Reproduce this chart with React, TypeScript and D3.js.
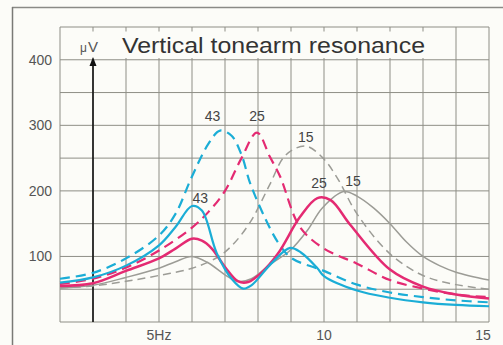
import React from "react";
import * as d3 from "d3";

// [frequency Hz, µV]
const cyanDashed: [number, number][] = [
  [2, 66], [3, 75], [4, 97], [5, 132], [5.5, 165], [6, 222], [6.5, 272], [6.85, 292],
  [7.2, 284], [7.5, 255], [7.76, 212], [8.2, 160], [8.6, 122], [9, 98], [10, 78],
  [11, 57], [12, 45], [13, 38], [14, 33], [15, 30],
];
const cyanSolid: [number, number][] = [
  [2, 60], [3, 68], [4, 86], [5, 117], [5.5, 145], [6, 177], [6.3, 170], [6.75, 105],
  [7.2, 66], [7.55, 51], [7.8, 56], [8.4, 89], [8.97, 113], [9.3, 106], [9.8, 82],
  [10, 70], [11, 48], [12, 37], [13, 30], [14, 26], [15, 24],
];
const magentaDashed: [number, number][] = [
  [2, 58], [3, 66], [4, 83], [5, 109], [6, 144], [6.5, 168], [7, 200], [7.5, 250],
  [7.97, 289], [8.36, 252], [8.67, 222], [9.27, 145], [10, 112], [11, 89], [12, 64],
  [13, 51], [14, 42], [15, 38],
];
const magentaSolid: [number, number][] = [
  [2, 55], [3, 59], [4, 78], [5, 97], [5.5, 112], [6, 127], [6.3, 124], [6.6, 112],
  [7, 84], [7.4, 62], [7.7, 61], [8.1, 75], [8.6, 104], [9.27, 160], [9.8, 189],
  [10.2, 186], [10.8, 148], [12, 80], [13, 54], [14, 42], [15, 36],
];
const grayDashed: [number, number][] = [
  [2, 52], [3, 55], [4, 62], [5, 71], [6, 82], [6.75, 98], [7.2, 116], [7.76, 152],
  [8.36, 210], [8.76, 250], [9.1, 264], [9.48, 268], [9.97, 250], [10.4, 220], [11, 165],
  [12, 104], [13, 71], [14, 57], [15, 50],
];
const graySolid: [number, number][] = [
  [2, 52], [3, 56], [4, 68], [5, 82], [5.5, 92], [6, 100], [6.5, 90], [7, 72],
  [7.4, 62], [7.8, 66], [8.4, 89], [8.97, 109], [9.5, 140], [9.95, 174], [10.6, 199],
  [11, 192], [11.5, 174], [12, 150], [12.5, 122], [13, 100], [13.5, 86], [14, 76], [15, 64],
];

const yTicks = [100, 200, 300, 400];
const xTickLabels: [number, string][] = [[5, "5Hz"], [10, "10"], [15, "15"]];
const title = "Vertical tonearm resonance";
const unitMu = "\u03bc";
const unitV = "V";

const curveLabels: { text: string; f: number; v: number }[] = [
  { text: "43", f: 6.62, v: 307 },
  { text: "25", f: 7.97, v: 307 },
  { text: "15", f: 9.45, v: 275 },
  { text: "43", f: 6.25, v: 181 },
  { text: "25", f: 9.85, v: 205 },
  { text: "15", f: 10.88, v: 208 },
];

const CYAN = "#1badd6";
const MAGENTA = "#e42a72";
const GRAY = "#9c9c96";

export default function App() {
  const x = d3.scaleLinear().domain([2, 15]).range([60, 489]);
  const y = d3.scaleLinear().domain([0, 450]).range([322, 27]);
  const line = d3
    .line<[number, number]>()
    .x((d) => x(d[0]))
    .y((d) => y(d[1]))
    .curve(d3.curveCatmullRom.alpha(0.5));

  const xGrid = d3.range(2, 16, 1);
  const yGrid = d3.range(0, 451, 50);

  const series = [
    { d: graySolid, color: GRAY, w: 1.5, dash: undefined },
    { d: grayDashed, color: GRAY, w: 1.5, dash: "8 5" },
    { d: magentaDashed, color: MAGENTA, w: 2.2, dash: "10 6" },
    { d: cyanDashed, color: CYAN, w: 2.2, dash: "10 6" },
    { d: magentaSolid, color: MAGENTA, w: 2.5, dash: undefined },
    { d: cyanSolid, color: CYAN, w: 2.2, dash: undefined },
  ];

  const font = "Liberation Sans, Arial, Helvetica, sans-serif";

  return (
    <svg
      width={503}
      height={345}
      style={{ position: "absolute", left: 0, top: 0, background: "#fcfcf8" }}
    >
      <rect x={0} y={0} width={503} height={345} fill="#fcfcf8" />
      {/* outer frame */}
      <line x1={12} y1={7.5} x2={503} y2={7.5} stroke="#8a8a86" strokeWidth={1.5} />
      <line x1={12.5} y1={7} x2={12.5} y2={345} stroke="#7a7a76" strokeWidth={1.5} />
      {/* grid */}
      {xGrid.map((f) => (
        <line key={"gx" + f} x1={x(f)} x2={x(f)} y1={y(450)} y2={y(0)} stroke="#8e8e86" strokeWidth={1} />
      ))}
      {yGrid.map((v) => (
        <line key={"gy" + v} x1={x(2)} x2={x(15)} y1={y(v)} y2={y(v)} stroke="#8e8e86" strokeWidth={1} />
      ))}
      {/* title box */}
      <rect x={63} y={31.5} width={375} height={26.5} fill="#fcfcf8" />
      <text x={80} y={52} fontFamily={font} fill="#555">
        <tspan fontSize={12}>{unitMu}</tspan>
        <tspan fontSize={15} dx={1}>{unitV}</tspan>
      </text>
      <text
        x={122}
        y={52.5}
        fontFamily={font}
        fontSize={22}
        fill="#333"
        textLength={303}
        lengthAdjust="spacingAndGlyphs"
      >
        {title}
      </text>
      {/* y axis arrow */}
      <line x1={x(3)} x2={x(3)} y1={y(0)} y2={64} stroke="#111" strokeWidth={1.6} />
      <path d={`M${x(3)},57 L${x(3) - 3.5},66 L${x(3) + 3.5},66 Z`} fill="#111" />
      {/* tick labels */}
      {yTicks.map((v) => (
        <text key={"yt" + v} x={52} y={y(v) + 5} textAnchor="end" fontFamily={font} fontSize={14} fill="#555">
          {v}
        </text>
      ))}
      {xTickLabels.map(([f, s]) => (
        <text key={"xt" + f} x={f === 15 ? 483 : x(f)} y={340} textAnchor="middle" fontFamily={font} fontSize={14} fill="#555">
          {s}
        </text>
      ))}
      {/* curves */}
      {series.map((s, i) => (
        <path
          key={"s" + i}
          d={line(s.d) || ""}
          fill="none"
          stroke={s.color}
          strokeWidth={s.w}
          strokeDasharray={s.dash}
          strokeLinecap="butt"
          strokeLinejoin="round"
        />
      ))}
      {curveLabels.map((l, i) => (
        <text key={"cl" + i} x={x(l.f)} y={y(l.v)} textAnchor="middle" fontFamily={font} fontSize={14} fill="#444">
          {l.text}
        </text>
      ))}
    </svg>
  );
}
